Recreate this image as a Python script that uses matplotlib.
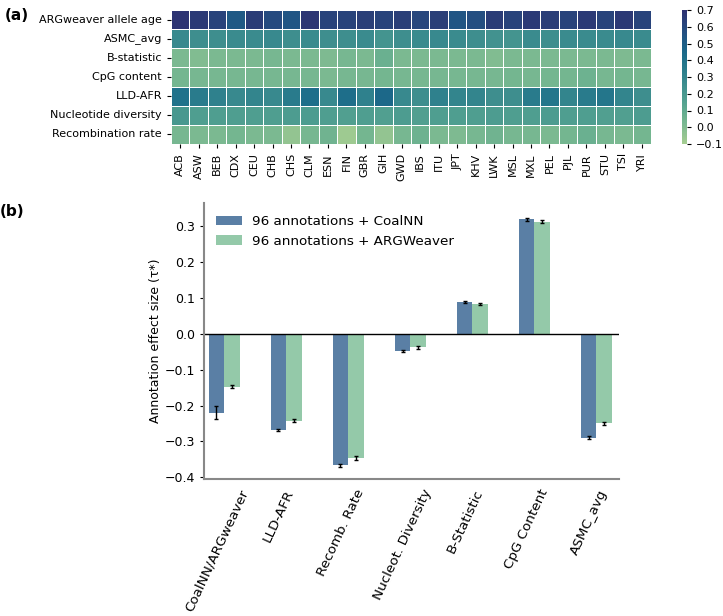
import numpy as np
import matplotlib
matplotlib.use("Agg")
import matplotlib.pyplot as plt
import seaborn as sns

# heatmap data (a)
populations = ["ACB", "ASW", "BEB", "CDX", "CEU", "CHB", "CHS", "CLM", "ESN", "FIN", "GBR", "GIH", "GWD",
               "IBS", "ITU", "JPT", "KHV", "LWK", "MSL", "MXL", "PEL", "PJL", "PUR", "STU", "TSI", "YRI"]
annotations = ["ARGweaver allele age", "ASMC_avg", "B-statistic", "CpG content", "LLD-AFR",
               "Nucleotide diversity", "Recombination rate"]
argweaver_age = [0.69, 0.66, 0.62, 0.52, 0.65, 0.59, 0.54, 0.68, 0.62, 0.62, 0.64, 0.62, 0.64,
                 0.60, 0.64, 0.54, 0.57, 0.65, 0.62, 0.66, 0.64, 0.62, 0.66, 0.62, 0.67, 0.62]
asmc_avg = [0.28, 0.25, 0.25, 0.27, 0.27, 0.28, 0.25, 0.27, 0.25, 0.25, 0.27, 0.22, 0.25,
            0.27, 0.28, 0.27, 0.25, 0.23, 0.22, 0.27, 0.25, 0.27, 0.27, 0.27, 0.28, 0.27]
b_statistic = [0.02, 0.00, 0.02, 0.02, 0.02, 0.03, 0.02, 0.02, 0.01, 0.03, 0.02, 0.07, 0.02,
               0.02, 0.02, 0.02, 0.02, 0.00, 0.02, 0.02, 0.02, 0.02, 0.02, 0.02, 0.01, 0.02]
cpg_content = [0.04, 0.03, 0.03, 0.03, 0.03, 0.03, 0.03, 0.03, 0.02, 0.03, 0.03, 0.04, 0.03,
               0.03, 0.03, 0.03, 0.03, 0.03, 0.04, 0.03, 0.04, 0.04, 0.06, 0.03, 0.04, 0.03]
lld_afr = [0.40, 0.35, 0.32, 0.28, 0.30, 0.28, 0.35, 0.42, 0.28, 0.42, 0.32, 0.45, 0.28,
           0.25, 0.32, 0.30, 0.30, 0.25, 0.25, 0.35, 0.38, 0.30, 0.35, 0.38, 0.30, 0.25]
nucl_diversity = [0.20, 0.17, 0.17, 0.17, 0.17, 0.17, 0.18, 0.18, 0.17, 0.16, 0.17, 0.16, 0.18,
                  0.16, 0.17, 0.17, 0.17, 0.18, 0.17, 0.17, 0.18, 0.17, 0.17, 0.16, 0.16, 0.18]
recomb_rate = [0.03, 0.02, 0.02, 0.04, 0.02, 0.02, -0.05, 0.03, 0.05, -0.08, 0.04, -0.05, 0.03,
               0.06, 0.02, 0.01, 0.03, 0.05, 0.03, 0.03, 0.02, 0.04, 0.07, 0.03, 0.02, 0.04]

# bar data (b)
bar_labels = ["CoalNN/ARGweaver", "LLD-AFR", "Recomb. Rate", "Nucleot. Diversity",
              "B-Statistic", "CpG Content", "ASMC_avg"]
coalnn_tau = [-0.220, -0.268, -0.367, -0.048, 0.088, 0.320, -0.290]
coalnn_err = [0.018, 0.003, 0.005, 0.004, 0.003, 0.004, 0.004]
argw_tau = [-0.148, -0.242, -0.347, -0.038, 0.083, 0.313, -0.250]
argw_err = [0.004, 0.004, 0.005, 0.004, 0.003, 0.004, 0.004]

plt.rcParams["font.family"] = "DejaVu Sans"

W, H = 723, 616
fig = plt.figure(figsize=(W / 100, H / 100), dpi=100)

def rect(l, t, r, b):
    return [l / W, 1 - b / H, (r - l) / W, (b - t) / H]

# (a) heatmap
ax_h = fig.add_axes(rect(171, 10, 651, 144))
cax = fig.add_axes(rect(682, 10, 687, 144))
mat = np.array([argweaver_age, asmc_avg, b_statistic, cpg_content, lld_afr, nucl_diversity, recomb_rate])
sns.heatmap(mat, ax=ax_h, cbar_ax=cax, cmap="crest", vmin=-0.1, vmax=0.7,
            linewidths=0.7, linecolor="white", xticklabels=populations, yticklabels=annotations)
ax_h.tick_params(axis="both", length=3, labelsize=8)
ax_h.set_yticklabels(annotations, rotation=0)
ax_h.set_xticklabels(populations, rotation=90)
cax.tick_params(labelsize=8, length=3)
cax.set_yticks([-0.1, 0.0, 0.1, 0.2, 0.3, 0.4, 0.5, 0.6, 0.7])
for s in cax.spines.values():
    s.set_visible(False)

# (b) bars
ax_b = fig.add_axes(rect(204, 203, 619, 479))
x = np.arange(len(bar_labels))
w = 0.25
ax_b.bar(x, coalnn_tau, w, color="#5a7fa5", label="96 annotations + CoalNN",
         yerr=coalnn_err, capsize=1.5, error_kw=dict(elinewidth=1, capthick=1, ecolor="black"))
ax_b.bar(x + w, argw_tau, w, color="#94c9a9", label="96 annotations + ARGWeaver",
         yerr=argw_err, capsize=1.5, error_kw=dict(elinewidth=1, capthick=1, ecolor="black"))
ax_b.axhline(0, color="black", lw=1)
ax_b.set_xlim(-0.2, 6.49)
ax_b.set_ylim(-0.405, 0.365)
ax_b.set_yticks([-0.4, -0.3, -0.2, -0.1, 0.0, 0.1, 0.2, 0.3])
ax_b.set_xticks(x)
ax_b.set_xticklabels(bar_labels, rotation=65, ha="center")
ax_b.tick_params(axis="x", length=0, labelsize=9.7, pad=6)
ax_b.tick_params(axis="y", labelsize=9, length=3)
ax_b.set_ylabel("Annotation effect size (τ*)", fontsize=9, labelpad=2)
for s in ["top", "right"]:
    ax_b.spines[s].set_visible(False)
for s in ["left", "bottom"]:
    ax_b.spines[s].set_color("#888888")
    ax_b.spines[s].set_linewidth(1.5)
ax_b.legend(loc="upper left", frameon=False, fontsize=9.7, bbox_to_anchor=(0.0, 1.0),
            handlelength=1.9, handletextpad=0.8)

fig.text(5 / W, 1 - 16 / H, "(a)", fontsize=11, fontweight="bold", va="center")
fig.text(0 / W, 1 - 212 / H, "(b)", fontsize=11, fontweight="bold", va="center")

fig.savefig("out.png", dpi=100)
